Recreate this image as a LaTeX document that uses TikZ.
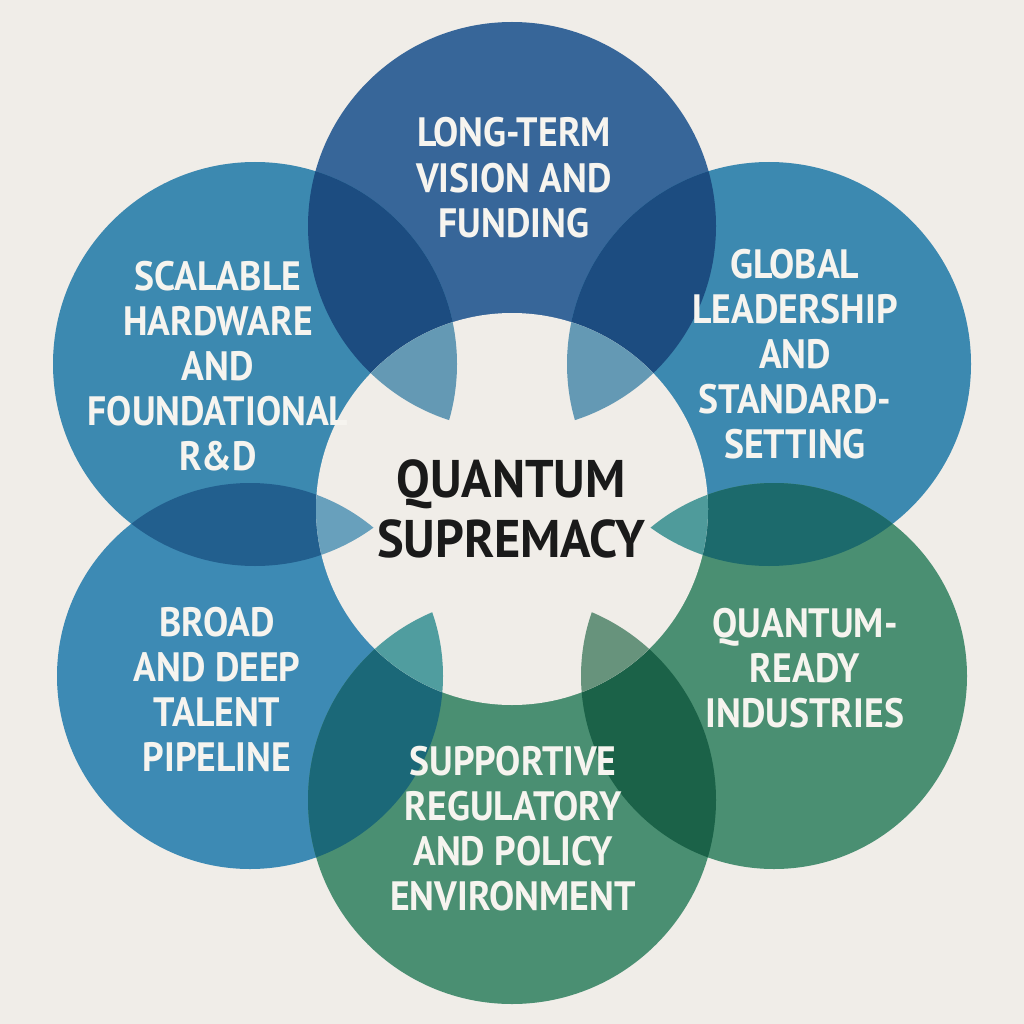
\documentclass[tikz,border=0pt]{standalone}
\usepackage{fontspec}
\setmainfont{PT Sans}
\newfontfamily\lblfont[FakeStretch=0.92]{PT Sans}
\newfontfamily\hubfontface[FakeStretch=0.95]{PT Sans}

\definecolor{bgpaper}{HTML}{F0EDE8}
\definecolor{cTop}{HTML}{376699}
\definecolor{cSide}{HTML}{3C89B0}
\definecolor{cLow}{HTML}{3D8AB4}
\definecolor{cGreen}{HTML}{4A8F72}
\definecolor{dkBlue}{HTML}{1C4C80}
\definecolor{dkSide}{HTML}{225F8E}
\definecolor{dkTeal}{HTML}{1C6A6C}
\definecolor{dkCyan}{HTML}{1B6878}
\definecolor{dkGreen}{HTML}{1B6248}
\definecolor{ltBlue}{HTML}{6499B4}
\definecolor{ltSide}{HTML}{68A0BC}
\definecolor{ltTeal}{HTML}{4F9B9B}
\definecolor{ltCyan}{HTML}{509D9F}
\definecolor{ltGreen}{HTML}{67937C}
\definecolor{lbltext}{HTML}{F6F4EF}
\definecolor{hubtext}{HTML}{1A1A1A}

\begin{document}
\begin{tikzpicture}[x=1pt,y=-1pt,
    circtext/.style={text=lbltext, font=\lblfont\bfseries\fontsize{41}{45}\selectfont,
        align=center, anchor=base, inner sep=0pt},
    hubfont/.style={text=hubtext, font=\hubfontface\bfseries\fontsize{53}{60}\selectfont,
        align=center, anchor=base, inner sep=0pt}]
        \fill[bgpaper] (0,0) rectangle (1024,1024);

        % circle centres
        \coordinate (T) at (512,226);
        \coordinate (UL) at (255,364);
        \coordinate (UR) at (769,364);
        \coordinate (LL) at (250,676);
        \coordinate (LR) at (774,676);
        \coordinate (B) at (512,800);
        \coordinate (C) at (512,509);

        \fill[cTop] (T) circle (204pt);
        \fill[cSide] (UL) circle (202pt);
        \fill[cSide] (UR) circle (202pt);
        \fill[cLow] (LL) circle (193pt);
        \fill[cGreen] (LR) circle (193pt);
        \fill[cGreen] (B) circle (204pt);

        % dark overlaps
        \begin{scope} \clip (UL) circle (202pt); \fill[dkBlue] (T) circle (204pt); \end{scope}
        \begin{scope} \clip (UR) circle (202pt); \fill[dkBlue] (T) circle (204pt); \end{scope}
        \begin{scope} \clip (UL) circle (202pt); \fill[dkSide] (LL) circle (193pt); \end{scope}
        \begin{scope} \clip (UR) circle (202pt); \fill[dkTeal] (LR) circle (193pt); \end{scope}
        \begin{scope} \clip (LL) circle (193pt); \fill[dkCyan] (B) circle (204pt); \end{scope}
        \begin{scope} \clip (LR) circle (193pt); \fill[dkGreen] (B) circle (204pt); \end{scope}

        % hub
        \fill[bgpaper] (C) circle (196pt);

        % light overlaps inside the hub
        \begin{scope} \clip (C) circle (196pt); \clip (UL) circle (202pt); \fill[ltBlue] (T) circle (204pt); \end{scope}
        \begin{scope} \clip (C) circle (196pt); \clip (UR) circle (202pt); \fill[ltBlue] (T) circle (204pt); \end{scope}
        \begin{scope} \clip (C) circle (196pt); \clip (UL) circle (202pt); \fill[ltSide] (LL) circle (193pt); \end{scope}
        \begin{scope} \clip (C) circle (196pt); \clip (UR) circle (202pt); \fill[ltTeal] (LR) circle (193pt); \end{scope}
        \begin{scope} \clip (C) circle (196pt); \clip (LL) circle (193pt); \fill[ltCyan] (B) circle (204pt); \end{scope}
        \begin{scope} \clip (C) circle (196pt); \clip (LR) circle (193pt); \fill[ltGreen] (B) circle (204pt); \end{scope}

        % labels (placed at the baseline of their last line)
        \node[circtext] (vision) at (514,237) {LONG-TERM\\VISION AND\\FUNDING};
        \node[circtext] (hardware) at (218,470) {SCALABLE\\HARDWARE\\AND\\FOUNDATIONAL\\R\&D};
        \node[circtext] (leadership) at (795,458) {GLOBAL\\LEADERSHIP\\AND\\STANDARD-\\SETTING};
        \node[circtext] (talent) at (217,771) {BROAD\\AND DEEP\\TALENT\\PIPELINE};
        \node[circtext] (industries) at (805,727) {QUANTUM-\\READY\\INDUSTRIES};
        \node[circtext] (policy) at (513,910) {SUPPORTIVE\\REGULATORY\\AND POLICY\\ENVIRONMENT};
        \node[hubfont] (hub) at (511,557) {QUANTUM\\SUPREMACY};
\end{tikzpicture}
\end{document}
